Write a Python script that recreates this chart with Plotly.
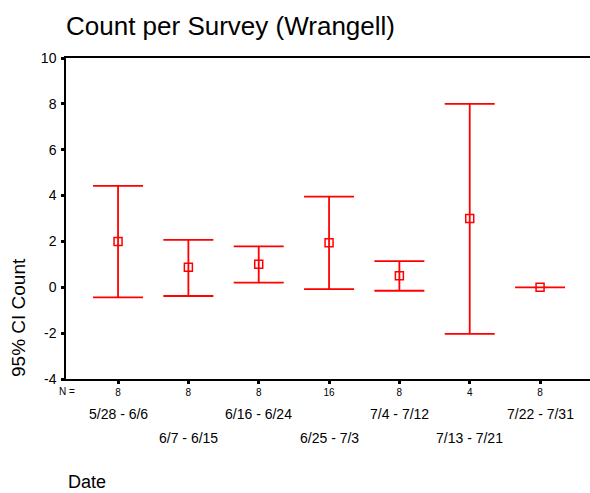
import plotly.graph_objects as go

# survey periods and their stats
periods = ["5/28 - 6/6", "6/7 - 6/15", "6/16 - 6/24", "6/25 - 7/3",
           "7/4 - 7/12", "7/13 - 7/21", "7/22 - 7/31"]
n_counts = [8, 8, 8, 16, 8, 4, 8]
means = [2.0, 0.875, 1.0, 1.94, 0.5, 3.0, 0.0]
ci_upper = [4.42, 2.07, 1.78, 3.95, 1.14, 8.0, 0.0]
ci_lower = [-0.44, -0.38, 0.2, -0.08, -0.15, -2.03, 0.0]
y_ticks = [-4, -2, 0, 2, 4, 6, 8, 10]

xpos = list(range(1, len(periods) + 1))
RED = "#ff0000"
FONT = "Arial, Liberation Sans, sans-serif"

W, H = 590, 493
L, R, T, B = 66, 0, 58, 114
pw, ph = W - L - R, H - T - B


def px_x(p):
    return (p - L) / pw


def px_y(p):
    return (H - B - p) / ph


fig = go.Figure()
fig.add_trace(go.Scatter(
    x=xpos,
    y=means,
    mode="markers",
    marker=dict(symbol="square-open", size=8, color=RED, line=dict(width=1.5, color=RED)),
    error_y=dict(
        type="data",
        symmetric=False,
        array=[u - m for u, m in zip(ci_upper, means)],
        arrayminus=[m - l for m, l in zip(means, ci_lower)],
        color=RED,
        thickness=1.8,
        width=25,
    ),
    showlegend=False,
    hoverinfo="skip",
))

# period labels, staggered on two rows
for i, (x, lab) in enumerate(zip(xpos, periods)):
    fig.add_annotation(
        x=x, y=px_y(414 if i % 2 == 0 else 438),
        xref="x", yref="paper",
        text=lab, showarrow=False,
        xanchor="center", yanchor="middle",
        font=dict(size=14, color="#000000", family=FONT),
    )

fig.add_annotation(
    x=px_x(57), y=px_y(391), xref="paper", yref="paper",
    text="N =", showarrow=False, xanchor="left", yanchor="middle",
    font=dict(size=10, color="#000000", family=FONT),
)
fig.add_annotation(
    x=px_x(18), y=px_y(318), xref="paper", yref="paper",
    text="95% CI Count", textangle=-90, showarrow=False,
    xanchor="center", yanchor="middle",
    font=dict(size=19, color="#000000", family=FONT),
)
fig.add_annotation(
    x=0, y=px_y(482), xref="paper", yref="paper",
    text="Date", showarrow=False, xanchor="left", yanchor="middle",
    font=dict(size=18, color="#000000", family=FONT),
)

fig.update_layout(
    width=W, height=H,
    margin=dict(l=L, r=R, t=T, b=B),
    paper_bgcolor="white",
    plot_bgcolor="white",
    title=dict(
        text="Count per Survey (Wrangell)",
        x=L / W, xref="container", xanchor="left",
        y=1 - 26 / H, yref="container", yanchor="middle",
        font=dict(size=26, color="#000000", family=FONT),
    ),
    font=dict(family=FONT, color="#000000"),
    xaxis=dict(
        range=[0.26, 7.71],
        tickvals=xpos,
        ticktext=[str(n) for n in n_counts],
        tickfont=dict(size=10),
        ticks="outside", ticklen=3, tickwidth=3, tickcolor="#000000",
        showline=True, linecolor="#000000", linewidth=1.5, mirror=True,
        showgrid=False, zeroline=False,
    ),
    yaxis=dict(
        range=[-4, 10],
        tickvals=y_ticks,
        ticktext=[str(t) for t in y_ticks],
        tickfont=dict(size=14),
        ticks="outside", ticklen=3, tickwidth=3, tickcolor="#000000",
        ticklabelstandoff=2,
        showline=True, linecolor="#000000", linewidth=1.5,
        showgrid=False, zeroline=False,
    ),
)

# page body has a default 8px margin, drop it so the figure fits the window
fig.write_html(
    "out.html",
    config={"displayModeBar": False},
    post_script="document.body.style.margin='0';",
)
